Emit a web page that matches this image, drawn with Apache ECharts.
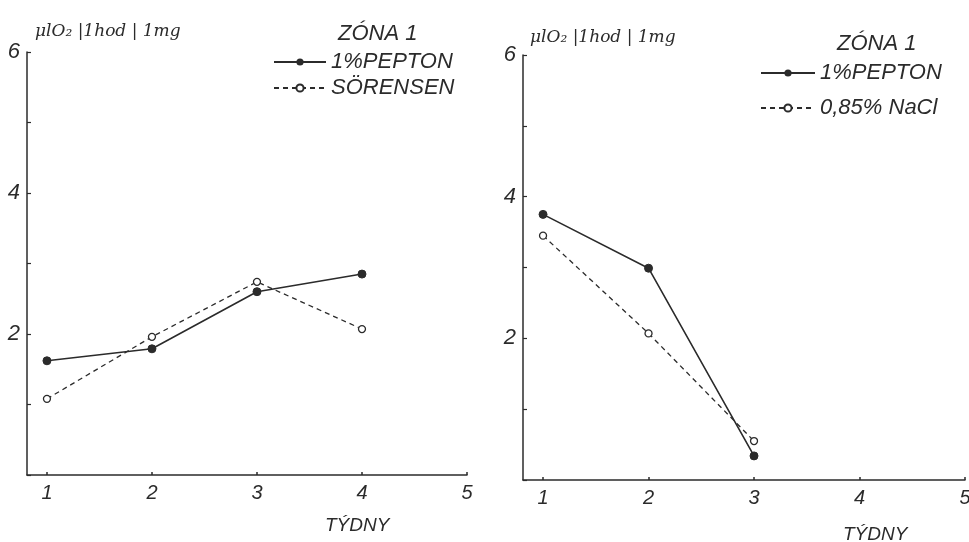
<!DOCTYPE html>
<html>
<head>
<meta charset="utf-8">
<script src="https://cdn.jsdelivr.net/npm/echarts@6/dist/echarts.min.js"></script>
<style>
html,body{margin:0;padding:0;background:#fff;}
#c{width:969px;height:542px;}
</style>
</head>
<body>
<div id="c"></div>
<script>
// ---- data ----
const weeksLeft = [1, 2, 3, 4];
const peptonLeft = [1.62, 1.79, 2.60, 2.85];
const sorensen = [1.08, 1.96, 2.74, 2.07];
const weeksRight = [1, 2, 3];
const peptonRight = [3.75, 2.99, 0.34];
const nacl = [3.45, 2.07, 0.55];
const xTicks = [1, 2, 3, 4, 5];
const yTickLabels = [2, 4, 6];
const yName = 'μlO₂ |1hod | 1mg';
const xName = 'TÝDNY';
const zoneTitle = 'ZÓNA 1';
const nameP = '1%PEPTON';
const nameS = 'SÖRENSEN';
const nameN = '0,85% NaCl';

const FONT = '"Liberation Sans", Arial, sans-serif';
const INK = '#2b2b2b';

function pairs(xs, ys) { return xs.map((x, i) => [x, ys[i]]); }

function xAxis(gi, padLeft, gap) {
  return {
    type: 'value', gridIndex: gi, min: 0.81, max: 5,
    name: xName, nameLocation: 'middle', nameGap: gap,
    nameTextStyle: { color: INK, fontSize: 19, fontStyle: 'italic', fontFamily: FONT, align: 'left', padding: [0, 0, 0, padLeft] },
    axisLine: { show: true, lineStyle: { color: INK, width: 1.5 } },
    axisTick: { show: true, inside: true, length: 3, customValues: xTicks, lineStyle: { color: INK, width: 1.5 } },
    axisLabel: { show: true, customValues: xTicks, color: INK, fontSize: 20, fontStyle: 'italic', fontFamily: FONT, margin: 8 },
    splitLine: { show: false }
  };
}
function yAxis(gi, gap, padLeft) {
  return {
    type: 'value', gridIndex: gi, min: 0, max: 6, interval: 1,
    name: yName, nameLocation: 'end', nameGap: gap,
    nameTextStyle: { color: INK, fontSize: 17, fontStyle: 'italic', fontFamily: '"DejaVu Serif", serif', align: 'left', verticalAlign: 'middle', padding: [0, 0, 0, padLeft] },
    axisLine: { show: true, lineStyle: { color: INK, width: 1.5 } },
    axisTick: { show: true, inside: true, length: 4, lineStyle: { color: INK, width: 1.2 } },
    axisLabel: {
      show: true, color: INK, fontSize: 22, fontStyle: 'italic', fontFamily: FONT, margin: 7,
      formatter: v => (yTickLabels.indexOf(v) >= 0 ? String(v) : '')
    },
    splitLine: { show: false }
  };
}
const solid = (name, gi, xs, ys) => ({
  name, type: 'line', xAxisIndex: gi, yAxisIndex: gi, data: pairs(xs, ys),
  symbol: 'circle', symbolSize: 8, showSymbol: true,
  lineStyle: { color: INK, width: 1.6, type: 'solid' },
  itemStyle: { color: INK, borderColor: INK },
  z: 3
});
const dashed = (name, gi, xs, ys) => ({
  name, type: 'line', xAxisIndex: gi, yAxisIndex: gi, data: pairs(xs, ys),
  symbol: 'circle', symbolSize: 7, showSymbol: true,
  lineStyle: { color: INK, width: 1.3, type: [5, 4] },
  itemStyle: { color: '#fff', borderColor: INK, borderWidth: 1.3 },
  z: 2
});

const legendText = { color: INK, fontSize: 22, fontStyle: 'italic', fontFamily: FONT, lineHeight: 22 };

const option = {
  backgroundColor: '#fff',
  animation: false,
  title: [
    { text: zoneTitle, left: 333, top: 18, textStyle: { color: INK, fontSize: 22, fontStyle: 'italic', fontWeight: 'normal', fontFamily: FONT } },
    { text: zoneTitle, left: 832, top: 28, textStyle: { color: INK, fontSize: 22, fontStyle: 'italic', fontWeight: 'normal', fontFamily: FONT } }
  ],
  legend: [
    { data: [nameP, nameS], orient: 'vertical', left: 273, top: 51, itemWidth: 52, itemHeight: 9, itemGap: 4, selectedMode: false, textStyle: legendText, padding: 0 },
    { data: [nameP, nameN], orient: 'vertical', left: 760, top: 62, itemWidth: 54, itemHeight: 9, itemGap: 13, selectedMode: false, textStyle: legendText, padding: 0 }
  ],
  grid: [
    { left: 27, top: 52, width: 440, height: 423, containLabel: false, outerBoundsMode: 'none' },
    { left: 523, top: 55, width: 442, height: 425, containLabel: false, outerBoundsMode: 'none' }
  ],
  xAxis: [xAxis(0, 78, 41), xAxis(1, 99, 45)],
  yAxis: [yAxis(0, 20, 8), yAxis(1, 17, 7)],
  series: [
    solid(nameP, 0, weeksLeft, peptonLeft),
    dashed(nameS, 0, weeksLeft, sorensen),
    solid(nameP, 1, weeksRight, peptonRight),
    dashed(nameN, 1, weeksRight, nacl)
  ]
};
const chart = echarts.init(document.getElementById('c'), null, { renderer: 'canvas' });
chart.setOption(option);
</script>
</body>
</html>
